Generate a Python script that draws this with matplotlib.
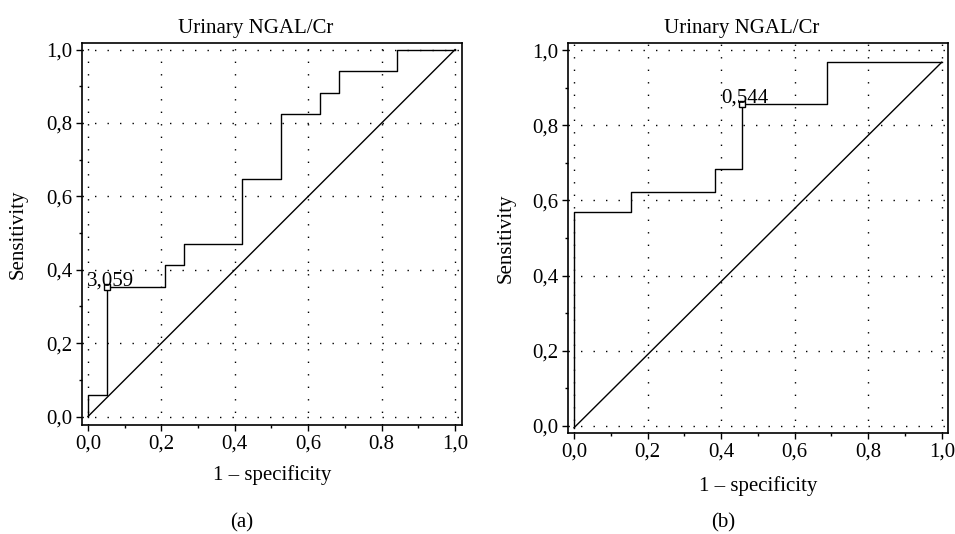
import matplotlib
matplotlib.use("Agg")
from matplotlib import pyplot as plt
from matplotlib.ticker import MultipleLocator, FixedLocator, FixedFormatter

plt.rcParams['font.family'] = ['Liberation Serif', 'DejaVu Serif']
plt.rcParams['font.size'] = 15

# panel (a) ROC curve, Urinary NGAL/Cr
fpr_a = [0.0, 0.0, 0.053, 0.053, 0.211, 0.211, 0.263, 0.263, 0.421, 0.421,
         0.526, 0.526, 0.632, 0.632, 0.684, 0.684, 0.842, 0.842, 1.0]
tpr_a = [0.0, 0.059, 0.059, 0.353, 0.353, 0.412, 0.412, 0.471, 0.471, 0.647,
         0.647, 0.824, 0.824, 0.882, 0.882, 0.941, 0.941, 1.0, 1.0]
diag_a = ([0.0, 1.0], [0.0, 1.0])
cut_a = (0.053, 0.353, '3,059')

# panel (b) ROC curve, Urinary NGAL/Cr
fpr_b = [0.0, 0.0, 0.155, 0.155, 0.384, 0.384, 0.456, 0.456, 0.688, 0.688, 1.0]
tpr_b = [-0.005, 0.568, 0.568, 0.623, 0.623, 0.683, 0.683, 0.856, 0.856, 0.968, 0.968]
diag_b = ([0.0, 1.0], [-0.005, 0.968])
cut_b = (0.456, 0.856, '0,544')

ticks = [0.0, 0.2, 0.4, 0.6, 0.8, 1.0]
xlabels_a = ['0,0', '0,2', '0,4', '0,6', '0.8', '1,0']
xlabels_b = ['0,0', '0,2', '0,4', '0,6', '0,8', '1,0']
ylabels = ['0,0', '0,2', '0,4', '0,6', '0,8', '1,0']

fig = plt.figure(figsize=(9.55, 5.34), dpi=100)
ax_a = fig.add_axes([0.0859, 0.2041, 0.3979, 0.7154])
ax_b = fig.add_axes([0.5945, 0.1891, 0.3982, 0.7303])


def draw_panel(ax, fpr, tpr, diag, cut, xlabels, xlim, ylim, ylab_x, xlab_y):
    ax.plot(fpr, tpr, color='k', lw=1.0)
    ax.plot(diag[0], diag[1], color='k', lw=1.0)
    ax.plot(cut[0], cut[1], marker='s', ms=5, mfc='white', mec='k', mew=1.0)
    ax.annotate(cut[2], (cut[0], cut[1]), xytext=(2, 1), textcoords='offset points',
                ha='center', va='baseline', fontsize=15)
    ax.set_xlim(*xlim)
    ax.set_ylim(*ylim)
    ax.xaxis.set_major_locator(FixedLocator(ticks))
    ax.xaxis.set_major_formatter(FixedFormatter(xlabels))
    ax.yaxis.set_major_locator(FixedLocator(ticks))
    ax.yaxis.set_major_formatter(FixedFormatter(ylabels))
    ax.xaxis.set_minor_locator(MultipleLocator(0.1))
    ax.yaxis.set_minor_locator(MultipleLocator(0.1))
    ax.tick_params(which='major', direction='out', length=4, width=1.0, pad=3)
    ax.tick_params(which='minor', direction='out', length=2.5, width=1.0)
    ax.grid(True, which='major', color='k', lw=1.0, linestyle=(0, (1, 8)))
    for s in ax.spines.values():
        s.set_linewidth(1.2)
    ax.set_title('Urinary NGAL/Cr', x=0.458, pad=7, fontsize=15)
    ax.set_ylabel('Sensitivity')
    ax.yaxis.set_label_coords(ylab_x, 0.5)
    ax.set_xlabel('1 \u2013 specificity')
    ax.xaxis.set_label_coords(0.5, xlab_y)


draw_panel(ax_a, fpr_a, tpr_a, diag_a, cut_a, xlabels_a,
           (-0.016, 1.019), (-0.023, 1.018), -0.142, -0.105)
draw_panel(ax_b, fpr_b, tpr_b, diag_b, cut_b, xlabels_b,
           (-0.017, 1.017), (-0.019, 1.019), -0.137, -0.11)

fig.text(242 / 955, 1 - 523 / 534, '(a)', ha='center', va='center', fontsize=15)
fig.text(723 / 955, 1 - 523 / 534, '(b)', ha='center', va='center', fontsize=15)

fig.savefig('out.png', dpi=100)
